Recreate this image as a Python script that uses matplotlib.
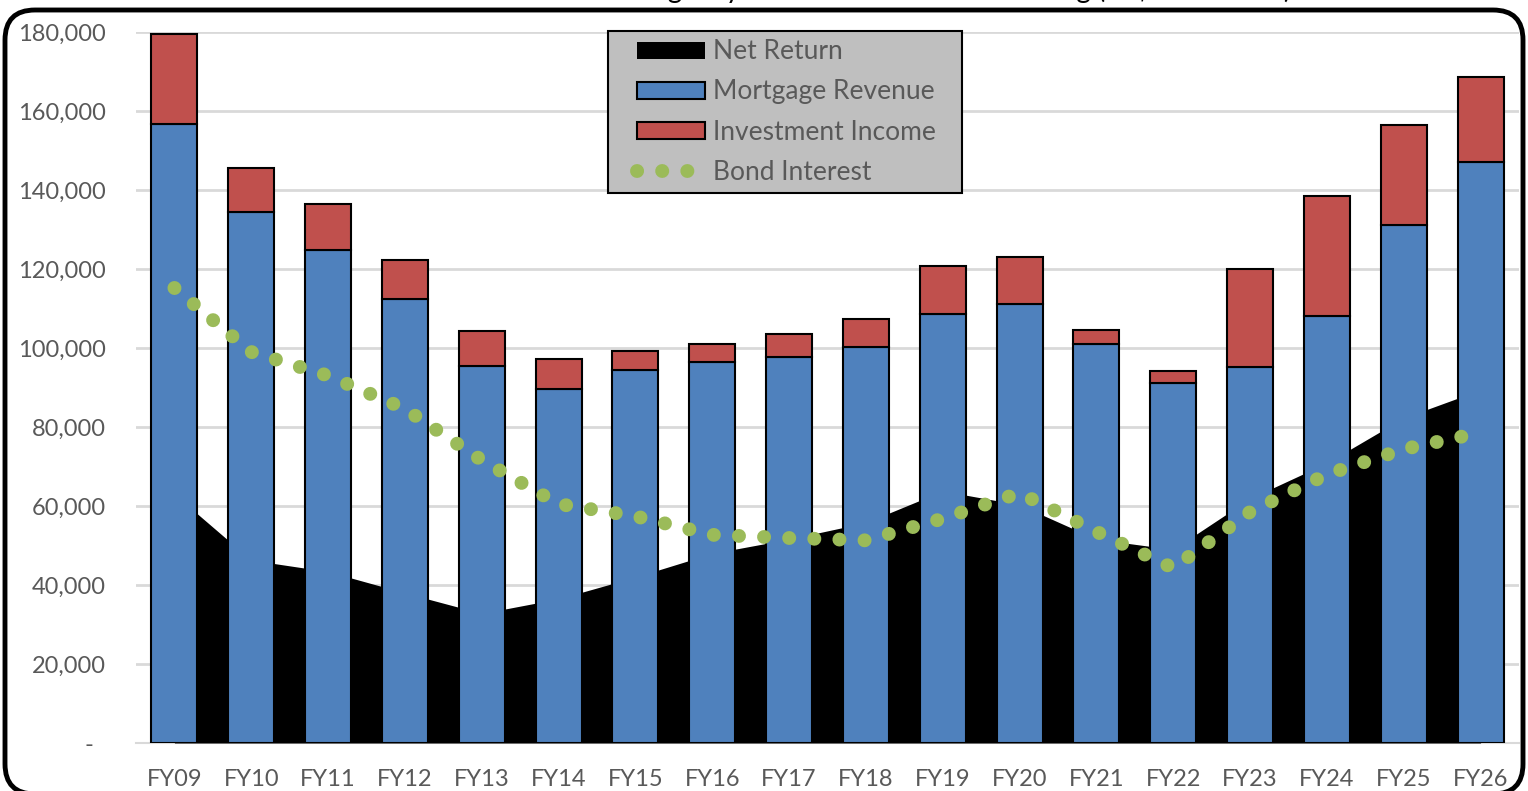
import matplotlib.pyplot as plt
from matplotlib.patches import FancyBboxPatch, Patch
from matplotlib.lines import Line2D
from matplotlib.legend_handler import HandlerPatch, HandlerLine2D
from matplotlib.ticker import FuncFormatter

# values
years = ["FY09", "FY10", "FY11", "FY12", "FY13", "FY14", "FY15", "FY16", "FY17",
         "FY18", "FY19", "FY20", "FY21", "FY22", "FY23", "FY24", "FY25", "FY26"]
mortgage_revenue = [156700, 134400, 124800, 112400, 95400, 89600, 94400, 96500, 97700,
                    100300, 108600, 111100, 101000, 91100, 95200, 108100, 131100, 147100]
investment_income = [22800, 11200, 11700, 9900, 8900, 7600, 4800, 4500, 5800,
                     7000, 12200, 11900, 3600, 3100, 24800, 30400, 25400, 21500]
net_return = [63000, 46300, 43400, 38000, 32800, 36500, 42000, 48000, 51600,
              55800, 63800, 60300, 51600, 49000, 61900, 70900, 82300, 89400]
bond_interest = [115200, 99000, 93000, 84600, 71600, 60500, 57400, 52700, 51900,
                 51300, 56800, 63300, 53500, 44300, 58500, 68000, 74400, 78600]

BLUE = "#4f81bd"
RED = "#c0504d"
GREEN = "#9bbb59"
TEXT = "#595959"
GRID = "#d9d9d9"

plt.rcParams["font.family"] = ["Lato", "DejaVu Sans"]

W, H = 1528, 791
fig = plt.figure(figsize=(W / 100, H / 100), dpi=100)
ax = fig.add_axes([136 / W, 1 - 743 / H, (1519 - 136) / W, (743 - 32) / H])

x = list(range(len(years)))

ax.fill_between(x, 0, net_return, color="black", linewidth=0, zorder=3)
ax.bar(x, mortgage_revenue, width=0.6, color=BLUE, edgecolor="black", linewidth=1.5, zorder=4)
ax.bar(x, investment_income, width=0.6, bottom=mortgage_revenue, color=RED,
       edgecolor="black", linewidth=1.5, zorder=4)
ax.plot(x, bond_interest, color=GREEN, linewidth=10, linestyle=(0, (0.01, 1.8)),
        dash_capstyle="round", zorder=5)

ax.set_xlim(-0.5, len(years) - 0.5)
ax.set_ylim(0, 180000)
ax.set_yticks(range(0, 180001, 20000))
ax.yaxis.set_major_formatter(FuncFormatter(lambda v, p: "-  " if v == 0 else f"{int(v):,}"))
ax.set_xticks(x)
ax.set_xticklabels(years)
ax.tick_params(axis="y", length=0, pad=22, labelsize=17, labelcolor=TEXT)
ax.tick_params(axis="x", length=0, pad=19, labelsize=17, labelcolor=TEXT)
ax.grid(axis="y", color=GRID, linewidth=2)
ax.set_axisbelow(True)
for side in ["top", "right", "left"]:
    ax.spines[side].set_visible(False)
ax.spines["bottom"].set_color(GRID)
ax.spines["bottom"].set_linewidth(1.5)
ax.spines["bottom"].set_zorder(2)

handles = [
    Patch(facecolor="black", edgecolor="black", linewidth=0),
    Patch(facecolor=BLUE, edgecolor="black", linewidth=1.5),
    Patch(facecolor=RED, edgecolor="black", linewidth=1.5),
    Line2D([], [], color=GREEN, linewidth=10, linestyle=(0, (0.01, 1.8)), dash_capstyle="round"),
]
labels = ["Net Return", "Mortgage Revenue", "Investment Income", "Bond Interest"]
handler_map = {
    handles[0]: HandlerPatch(xpad=0.78),
    handles[1]: HandlerPatch(xpad=0.78),
    handles[2]: HandlerPatch(xpad=0.78),
    handles[3]: HandlerLine2D(xpad=0.78),
}
lx0 = (608 - 136) / (1519 - 136)
lw_ = (962 - 608) / (1519 - 136)
ly1 = (743 - 31) / 711
leg = ax.legend(handles, labels, handler_map=handler_map, loc="upper left",
                bbox_to_anchor=(lx0, ly1 - 0.3, lw_, 0.3), mode="expand",
                borderaxespad=0, borderpad=0.32, labelspacing=0.57,
                handlelength=3.36, handleheight=0.6, handletextpad=0.3,
                fontsize=19, labelcolor=TEXT, fancybox=False, framealpha=1,
                facecolor="#bfbfbf", edgecolor="black")
leg.get_frame().set_linewidth(1.5)
leg.set_zorder(10)

# overlay in pixel coordinates (origin bottom-left) for the rounded frame and clipped title
over = fig.add_axes([0, 0, 1, 1], zorder=20)
over.set_xlim(0, W)
over.set_ylim(0, H)
over.axis("off")
over.patch.set_alpha(0)
over.add_patch(FancyBboxPatch((5, -3), W - 10, H - 10 + 3,
                              boxstyle="round,pad=0,rounding_size=30",
                              facecolor="none", edgecolor="black", linewidth=3.5))
over.text(970, H + 2, "Agency Revenue vs. Bond Financing (in $ thousands)", ha="center",
          va="baseline", fontsize=20, color="black")

fig.savefig("out.png", dpi=100)
